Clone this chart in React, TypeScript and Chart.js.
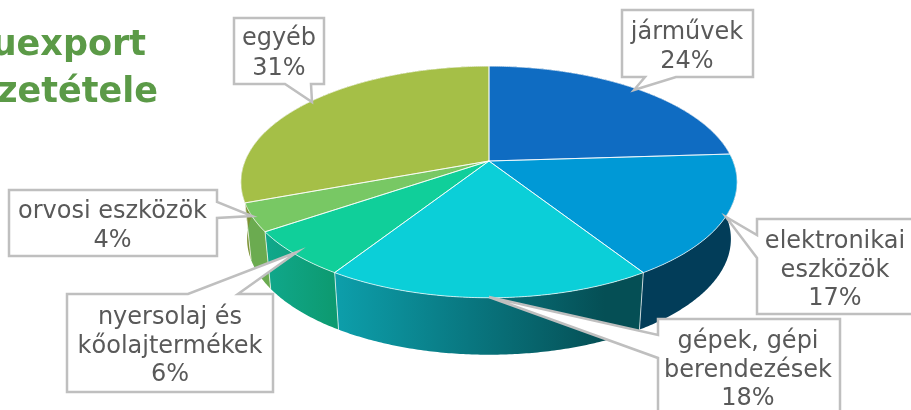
import React, { useEffect, useRef } from "react";
import { Chart, registerables } from "chart.js";

Chart.register(...registerables);

const categories = ["járművek", "elektronikai eszközök", "gépek, gépi berendezések", "nyersolaj és kőolajtermékek", "orvosi eszközök", "egyéb"];
const shares = [24, 17, 18, 6.4, 3.9, 30.7];
const topColors = ["#0f6cc2", "#0099d6", "#0bcfd8", "#10cf9a", "#78c864", "#a5bf47"];
const wallLeft = ["#0a4f8a", "#023d59", "#0d9fab", "#10a88c", "#6bab50", "#7c9234"];
const wallRight = ["#0a4f8a", "#023d59", "#054f55", "#0d9a70", "#6bab50", "#7c9234"];
const titleLines = ["uexport", "zetétele"];

// Projection of the flat pie into the tilted view
const APEX_X = 489, APEX_Y = 161, HALF_W = 244, HALF_H = 112, PERSPECTIVE = 0.181;
const DEPTH = 57, BOTTOM_SHRINK = 0.975;

const FONT = '"DejaVu Sans", sans-serif';
const TEXT_COLOR = "#595959";
const BORDER = "#bfbfbf";

const callouts = [
  { lines: ["járművek", "24%"], box: [622, 10, 753, 77], side: "bottom", base: [645, 676], tip: [634, 90], cx: 687, ys: [39, 68] },
  { lines: ["elektronikai", "eszközök", "17%"], box: [757, 219, 925, 314], side: "left", base: [235, 258], tip: [726, 217], cx: 835, ys: [248, 277, 305] },
  { lines: ["gépek, gépi", "berendezések", "18%"], box: [658, 319, 840, 430], side: "left", base: [335, 358], tip: [489, 297], cx: 748, ys: [348, 377, 405] },
  { lines: ["nyersolaj és", "kőolajtermékek", "6%"], box: [67, 294, 273, 392], side: "top", base: [188, 238], tip: [297, 252], cx: 170, ys: [324, 353, 381] },
  { lines: ["orvosi eszközök", "4%"], box: [9, 190, 217, 256], side: "right", base: [202, 218], tip: [252, 216], cx: 112.5, ys: [218, 247] },
  { lines: ["egyéb", "31%"], box: [234, 18, 324, 84], side: "bottom", base: [285, 311], tip: [312, 102], cx: 279, ys: [45, 75] },
];

function project(angle: number) {
  const x = Math.cos(angle), y = Math.sin(angle);
  const w = 1 - PERSPECTIVE * y;
  return { x: APEX_X + (HALF_W * x) / w, y: APEX_Y + (HALF_H * y) / w };
}
function lower(p: { x: number; y: number }) {
  return { x: APEX_X + (p.x - APEX_X) * BOTTOM_SHRINK, y: p.y + DEPTH };
}
function samples(a: number, b: number) {
  const n = Math.max(2, Math.ceil((b - a) / 0.01));
  const out: number[] = [];
  for (let i = 0; i <= n; i++) out.push(a + ((b - a) * i) / n);
  return out;
}

const tiltedPie = {
  id: "tiltedPie",
  beforeDatasetsDraw(chart: any) {
    const ctx: CanvasRenderingContext2D = chart.ctx;
    const arcs = chart.getDatasetMeta(0).data;
    ctx.save();
    // outer walls
    arcs.forEach((arc: any, i: number) => {
      const pts = samples(arc.startAngle, arc.endAngle).map(project);
      const low = pts.map(lower).reverse();
      const xs = pts.map((p) => p.x);
      const g = ctx.createLinearGradient(Math.min(...xs), 0, Math.min(Math.max(...xs), Math.min(...xs) + 270), 0);
      g.addColorStop(0, wallLeft[i]);
      g.addColorStop(1, wallRight[i]);
      ctx.fillStyle = g;
      ctx.beginPath();
      [...pts, ...low].forEach((p, k) => (k ? ctx.lineTo(p.x, p.y) : ctx.moveTo(p.x, p.y)));
      ctx.closePath();
      ctx.fill();
    });
    // seams on the front of the wall
    ctx.strokeStyle = "rgba(255,255,255,0.7)";
    ctx.lineWidth = 1;
    arcs.forEach((arc: any) => {
      if (Math.sin(arc.startAngle) > 0) {
        const p = project(arc.startAngle);
        const q = lower(p);
        ctx.beginPath();
        ctx.moveTo(p.x, p.y);
        ctx.lineTo(q.x, q.y);
        ctx.stroke();
      }
    });
    // top faces
    arcs.forEach((arc: any, i: number) => {
      ctx.beginPath();
      ctx.moveTo(APEX_X, APEX_Y);
      samples(arc.startAngle, arc.endAngle).map(project).forEach((p) => ctx.lineTo(p.x, p.y));
      ctx.closePath();
      ctx.fillStyle = arc.options.backgroundColor || topColors[i];
      ctx.fill();
    });
    arcs.forEach((arc: any) => {
      ctx.beginPath();
      ctx.moveTo(APEX_X, APEX_Y);
      samples(arc.startAngle, arc.endAngle).map(project).forEach((p) => ctx.lineTo(p.x, p.y));
      ctx.closePath();
      ctx.strokeStyle = "rgba(255,255,255,0.7)";
      ctx.lineWidth = 1;
      ctx.stroke();
    });
    ctx.restore();
    return false;
  },
  afterDraw(chart: any) {
    const ctx: CanvasRenderingContext2D = chart.ctx;
    ctx.save();
    // title
    ctx.fillStyle = "#5b9a47";
    ctx.font = `bold 35px ${FONT}`;
    ctx.textAlign = "right";
    ctx.textBaseline = "alphabetic";
    ctx.fillText(titleLines[0], 146, 55);
    ctx.fillText(titleLines[1], 158, 102);
    // callouts
    callouts.forEach((c) => {
      const [l, t, r, b] = c.box;
      const [u, v] = c.base;
      const tip = c.tip;
      const pts: number[][] = [[l, t]];
      if (c.side === "top") pts.push([u, t], tip, [v, t]);
      pts.push([r, t]);
      if (c.side === "right") pts.push([r, u], tip, [r, v]);
      pts.push([r, b]);
      if (c.side === "bottom") pts.push([v, b], tip, [u, b]);
      pts.push([l, b]);
      if (c.side === "left") pts.push([l, v], tip, [l, u]);
      ctx.beginPath();
      pts.forEach((p, k) => (k ? ctx.lineTo(p[0], p[1]) : ctx.moveTo(p[0], p[1])));
      ctx.closePath();
      ctx.fillStyle = "#ffffff";
      ctx.fill();
      ctx.strokeStyle = BORDER;
      ctx.lineWidth = 2.5;
      ctx.lineJoin = "miter";
      ctx.stroke();
      ctx.fillStyle = TEXT_COLOR;
      ctx.font = `24px ${FONT}`;
      ctx.textAlign = "center";
      c.lines.forEach((line, k) => ctx.fillText(line, c.cx, c.ys[k]));
    });
    ctx.restore();
  },
};

export default function App() {
  const ref = useRef<HTMLCanvasElement>(null);
  useEffect(() => {
    const chart = new Chart(ref.current!, {
      type: "pie",
      data: {
        labels: categories,
        datasets: [{ data: shares, backgroundColor: topColors }],
      },
      options: {
        animation: false,
        responsive: false,
        devicePixelRatio: 1,
        plugins: { legend: { display: false }, tooltip: { enabled: false }, title: { display: false } },
      },
      plugins: [tiltedPie],
    } as any);
    return () => chart.destroy();
  }, []);
  return (
    <div style={{ position: "fixed", left: 0, top: 0, width: 911, height: 410, background: "#fff" }}>
      <canvas ref={ref} width={911} height={410} style={{ display: "block" }} />
    </div>
  );
}
